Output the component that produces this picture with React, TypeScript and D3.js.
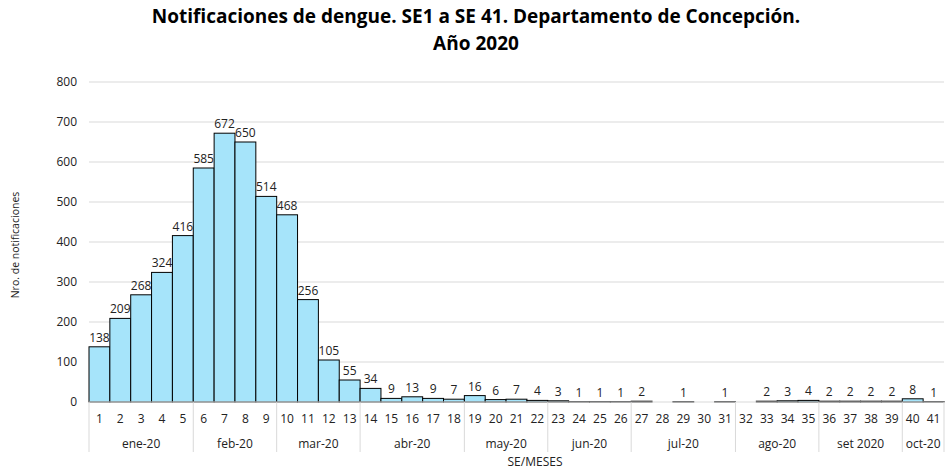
import React from "react";
import * as d3 from "d3";

const weeks: string[] = Array.from({ length: 41 }, (_, i) => String(i + 1));
const values: (number | null)[] = [
  138, 209, 268, 324, 416, 585, 672, 650, 514, 468, 256, 105, 55, 34, 9, 13, 9, 7, 16, 6, 7, 4,
  3, 1, 1, 1, 2, null, 1, null, 1, null, 2, 3, 4, 2, 2, 2, 2, 8, 1,
];
const months: string[] = ["ene-20", "feb-20", "mar-20", "abr-20", "may-20", "jun-20", "jul-20", "ago-20", "set 2020", "oct-20"];
const monthWeekCounts: number[] = [5, 4, 4, 5, 4, 4, 5, 4, 4, 2];
const yTicks: number[] = [0, 100, 200, 300, 400, 500, 600, 700, 800];

const W = 950, H = 470;
const left = 89, right = 944, top = 82, bottom = 402;
const font = "'Open Sans', 'Noto Sans', sans-serif";

export default function App() {
  const x = d3.scaleBand<string>().domain(weeks).range([left, right]).padding(0);
  const y = d3.scaleLinear().domain([0, 800]).range([bottom, top]);
  const bw = x.bandwidth();

  let acc = 0;
  const groups = months.map((m, i) => {
    const start = acc;
    acc += monthWeekCounts[i];
    return { m, x0: x(weeks[start])!, x1: x(weeks[acc - 1])! + bw };
  });

  return (
    <svg width={W} height={H} style={{ display: "block", position: "absolute", left: 0, top: 0 }}>
      <rect width={W} height={H} fill="#fff" />
      <text x={476} y={23} textAnchor="middle" fontFamily={font} fontWeight="bold" fontSize={19} fill="#000">
        Notificaciones de dengue. SE1 a SE 41. Departamento de Concepción.
      </text>
      <text x={476} y={50} textAnchor="middle" fontFamily={font} fontWeight="bold" fontSize={19} fill="#000">
        Año 2020
      </text>
      {yTicks.map((t) => (
        <g key={t}>
          {t > 0 && <line x1={left} x2={right} y1={y(t)} y2={y(t)} stroke="#d9d9d9" strokeWidth={1} />}
          <text x={77} y={y(t) + 4} textAnchor="end" fontFamily={font} fontSize={12} fill="#222">
            {t}
          </text>
        </g>
      ))}
      {values.map((v, i) =>
        v == null ? null : (
          <g key={i}>
            <rect x={x(weeks[i])!} y={y(v)} width={bw} height={bottom - y(v)} fill="#A6E4FA" stroke="#000" strokeWidth={1} />
            <text x={x(weeks[i])! + bw / 2} y={y(v) - 5} textAnchor="middle" fontFamily={font} fontSize={12} fill="#222">
              {v}
            </text>
          </g>
        )
      )}
      <line x1={left} x2={right} y1={bottom} y2={bottom} stroke="#d9d9d9" strokeWidth={1} />
      {weeks.map((w) => (
        <text key={w} x={x(w)! + bw / 2} y={423} textAnchor="middle" fontFamily={font} fontSize={12} fill="#222">
          {w}
        </text>
      ))}
      <line x1={left} x2={left} y1={bottom} y2={452} stroke="#d9d9d9" />
      {groups.map((g) => (
        <g key={g.m}>
          <line x1={g.x1} x2={g.x1} y1={bottom} y2={452} stroke="#d9d9d9" />
          <text x={(g.x0 + g.x1) / 2} y={448} textAnchor="middle" fontFamily={font} fontSize={12} fill="#222">
            {g.m}
          </text>
        </g>
      ))}
      <text x={535} y={466} textAnchor="middle" fontFamily={font} fontSize={12} fill="#222">
        SE/MESES
      </text>
      <text transform={`translate(19,245) rotate(-90)`} textAnchor="middle" fontFamily={font} fontSize={10.5} fill="#222">
        Nro. de notificaciones
      </text>
    </svg>
  );
}
